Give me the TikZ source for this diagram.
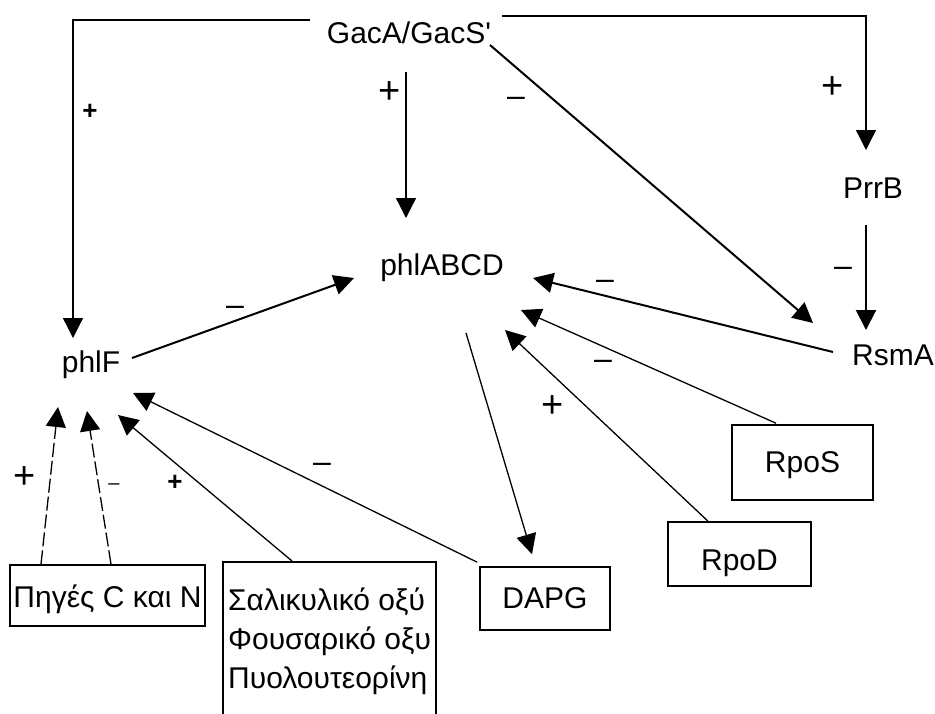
\documentclass[tikz,border=0pt]{standalone}
\usepackage{fontspec}
\setmainfont{Liberation Sans}
\usetikzlibrary{arrows.meta,calc}
\begin{document}
\begin{tikzpicture}[x=1pt,y=-1pt,
  txt/.style={inner sep=0pt, font=\fontsize{30}{39}\selectfont, anchor=base},
  boxn/.style={draw, line width=1.6pt, inner sep=0pt, font=\fontsize{30}{39}\selectfont},
  arr/.style={line width=1.3pt, -{Triangle[length=20pt,width=20pt]}},
  thk/.style={line width=2pt},
  dsh/.style={arr, dash pattern=on 14pt off 4pt},
  sgn/.style={inner sep=0pt, font=\fontsize{32}{36}\selectfont},
  psgn/.style={inner sep=0pt, font=\fontsize{38}{42}\selectfont},
  bsgn/.style={inner sep=0pt, font=\fontsize{26}{30}\selectfont\bfseries}]
\useasboundingbox (0,0) rectangle (935,713);
\clip (0,0) rectangle (935,713);

% text nodes
\node[txt] (gac) at (409,43) {GacA/GacS\textquotesingle};
\node[txt] (phlabcd) at (442,275) {phlABCD};
\node[txt] (phlf) at (91,372) {phlF};
\node[txt] (prrb) at (873,198) {PrrB};
\node[txt] (rsma) at (893,365) {RsmA};

% boxes
\node[boxn, minimum width=141pt, minimum height=75pt, text height=25.5pt, text depth=6.5pt] (rpos) at (802.5,462.5) {RpoS};
\node[boxn, minimum width=143pt, minimum height=64pt, text height=38pt, text depth=6pt] (rpod) at (739.5,554) {RpoD};
\node[boxn, minimum width=130pt, minimum height=63pt, text height=25.5pt, text depth=6.5pt] (dapg) at (545,598.5) {DAPG};
\node[boxn, minimum width=195pt, minimum height=61pt, text height=29pt, text depth=6pt] (pig) at (107.5,595.5) {Πηγές C και N};
\node[boxn, minimum width=213pt, minimum height=200pt, anchor=north west] (sal) at (222,561) {};
\node[txt, anchor=base west] (salt) at (228,610)
  {\begin{tabular}[t]{@{}l@{}}Σαλικυλικό οξύ\\Φουσαρικό οξυ\\Πυολουτεορίνη\end{tabular}};

% connectors
\draw[arr] ($(gac.base)+(-99,-23)$) -| ($(phlf.base)+(-18,-34)$);
\draw[arr] ($(gac.base)+(-3,29)$) -- ($(phlabcd.base)+(-36,-57)$);
\draw[arr] ($(gac.base)+(93,-27)$) -| ($(prrb.base)+(-7,-48)$);
\draw[arr,thk] ($(gac.base)+(81,2)$) -- ($(rsma.base)+(-80,-42)$);
\draw[arr,thk] ($(prrb.base)+(-7,27)$) -- ($(rsma.base)+(-27,-35)$);
\draw[arr,thk] ($(phlf.base)+(41,-14)$) -- ($(phlabcd.base)+(-88,3)$);
\draw[arr,thk] ($(rsma.base)+(-60,-13)$) -- ($(phlabcd.base)+(91,3)$);
\draw[arr] ($(rpos.north)+(-26.5,-1)$) -- ($(phlabcd.base)+(79,35)$);
\draw[arr] ($(rpod.north)+(-31.5,0)$) -- ($(phlabcd.base)+(63,55)$);
\draw[arr] ($(phlabcd.base)+(24,58)$) -- ($(dapg.north)+(-13,-12)$);
\draw[dsh] ($(pig.north)+(-66.5,0)$) -- ($(phlf.base)+(-33,35)$);
\draw[dsh] ($(pig.north)+(3.5,0)$) -- ($(phlf.base)+(-4,39)$);
\draw[arr] ($(sal.north west)+(70,0)$) -- ($(phlf.base)+(27,43)$);
\draw[arr] ($(dapg.north west)+(-2,-4)$) -- ($(phlf.base)+(42,21)$);

% signs
\node[bsgn] (s1) at (90,112) {+};
\node[psgn] (s2) at (390,93) {+};
\node[psgn] (s3) at (833,88) {+};
\node[sgn] (s4) at (516,102) {–};
\node[sgn] (s5) at (843,272) {–};
\node[sgn] (s6) at (235,311) {–};
\node[sgn] (s7) at (605,285) {–};
\node[sgn] (s8) at (603,365) {–};
\node[psgn] (s9) at (553,407) {+};
\node[psgn] (s11) at (25,478) {+};
\node[sgn, font=\fontsize{20}{24}\selectfont] (s12) at (114,487) {–};
\node[bsgn] (s13) at (175,483) {+};
\node[sgn] (s14) at (322,468) {–};
\end{tikzpicture}
\end{document}
